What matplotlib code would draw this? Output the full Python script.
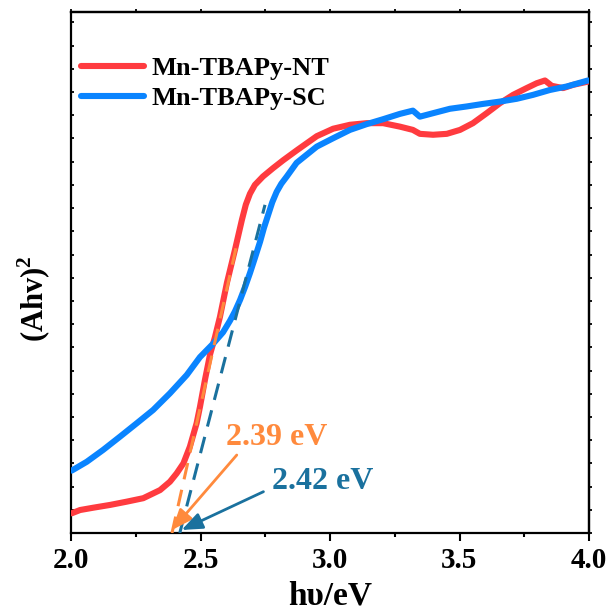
"""
Tauc plot of Mn-TBAPy-NT and Mn-TBAPy-SC with band-gap tangent lines.
"""
import numpy as np
from matplotlib import pyplot as plt
from matplotlib.ticker import MultipleLocator, NullFormatter

# photon energy (eV) and (Ahv)^2 in arbitrary units
nt_energy = [2.003, 2.035, 2.086, 2.151, 2.215, 2.279, 2.344, 2.382, 2.408,
             2.434, 2.459, 2.485, 2.498, 2.517, 2.537, 2.556, 2.575, 2.602,
             2.633, 2.660, 2.675, 2.691, 2.710, 2.741, 2.780, 2.819, 2.873,
             2.949, 3.012, 3.077, 3.142, 3.205, 3.270, 3.320, 3.347, 3.398,
             3.451, 3.502, 3.552, 3.605, 3.656, 3.707, 3.759, 3.798, 3.830,
             3.856, 3.900, 3.938, 3.996]
nt_signal = [0.85, 0.99, 1.09, 1.21, 1.35, 1.50, 1.85, 2.21, 2.57,
             3.00, 3.72, 4.73, 5.44, 6.59, 7.70, 8.45, 9.31, 10.78,
             12.20, 13.50, 14.15, 14.62, 15.00, 15.36, 15.72, 16.06, 16.50,
             17.10, 17.42, 17.59, 17.66, 17.66, 17.51, 17.37, 17.20, 17.16,
             17.20, 17.37, 17.66, 18.09, 18.52, 18.88, 19.17, 19.38, 19.50,
             19.27, 19.17, 19.31, 19.45]

sc_energy = [2.003, 2.061, 2.124, 2.189, 2.254, 2.317, 2.382, 2.447, 2.498,
             2.548, 2.587, 2.614, 2.633, 2.653, 2.672, 2.691, 2.710, 2.730,
             2.745, 2.761, 2.777, 2.794, 2.812, 2.833, 2.871, 2.949, 3.012,
             3.077, 3.142, 3.205, 3.270, 3.320, 3.347, 3.398, 3.463, 3.528,
             3.591, 3.656, 3.721, 3.784, 3.849, 3.914, 3.996]
sc_signal = [2.69, 3.07, 3.58, 4.15, 4.73, 5.30, 6.02, 6.81, 7.58,
             8.15, 8.65, 9.15, 9.55, 10.05, 10.60, 11.20, 11.85, 12.55,
             13.15, 13.70, 14.25, 14.70, 15.05, 15.36, 15.95, 16.65, 17.01,
             17.37, 17.62, 17.83, 18.06, 18.20, 17.94, 18.09, 18.28, 18.38,
             18.49, 18.59, 18.71, 18.88, 19.09, 19.24, 19.50]

# band gaps and top ends of the linear fits
nt_gap, nt_fit_end = 2.39, (2.637, 12.28)
sc_gap, sc_fit_end = 2.42, (2.749, 14.14)

red = "#ff3b3f"
blue = "#0a84ff"
orange = "#ff8a3d"
teal = "#1a719e"
serif = "Liberation Serif"

plt.rcParams["mathtext.fontset"] = "custom"
plt.rcParams["mathtext.rm"] = "Liberation Serif:bold"
plt.rcParams["mathtext.bf"] = "Liberation Serif:bold"

fig = plt.figure(figsize=(6.11, 6.16), dpi=100)
ax = fig.add_axes([71 / 611, 83 / 616, 518 / 611, 521 / 616])

ax.plot(nt_energy, nt_signal, color=red, lw=4.4, solid_capstyle="round",
        solid_joinstyle="round", label="Mn-TBAPy-NT", zorder=3)
ax.plot(sc_energy, sc_signal, color=blue, lw=4.4, solid_capstyle="round",
        solid_joinstyle="round", label="Mn-TBAPy-SC", zorder=3)

# tangent lines down to the energy axis
ax.plot([nt_gap, nt_fit_end[0]], [0, nt_fit_end[1]], color=orange, lw=2.2,
        dashes=(5.5, 3.5), zorder=4)
ax.plot([sc_gap, sc_fit_end[0]], [0, sc_fit_end[1]], color=teal, lw=2.2,
        dashes=(5.5, 3.5), zorder=4)

# arrows pointing at the intercepts
head = "-|>,head_length=1.25,head_width=0.5"
ax.annotate("", xy=(nt_gap, 0.13), xytext=(2.640, 3.36),
            arrowprops=dict(arrowstyle=head, color=orange, lw=2.0,
                            shrinkA=0, shrinkB=0), zorder=5)
ax.annotate("", xy=(2.427, 0.13), xytext=(2.743, 1.78),
            arrowprops=dict(arrowstyle=head, color=teal, lw=2.0,
                            shrinkA=0, shrinkB=0), zorder=5)
ax.text(2.795, 4.12, f"{nt_gap:.2f} eV", color=orange, fontsize=23,
        fontweight="bold", family=serif, ha="center", va="center")
ax.text(2.973, 2.24, f"{sc_gap:.2f} eV", color=teal, fontsize=23,
        fontweight="bold", family=serif, ha="center", va="center")

ax.set_xlim(2.0, 4.0)
ax.set_ylim(0, 22.45)
ax.xaxis.set_major_locator(MultipleLocator(0.5))
ax.xaxis.set_minor_locator(MultipleLocator(0.25))
ax.yaxis.set_major_locator(MultipleLocator(1))
ax.yaxis.set_major_formatter(NullFormatter())

for spine in ax.spines.values():
    spine.set_linewidth(1.6)

ax.tick_params(axis="x", which="major", direction="out", length=6, width=1.5,
               labelsize=21, pad=4)
ax.tick_params(axis="x", which="minor", direction="out", length=3, width=1.5)
ax.tick_params(axis="y", which="major", direction="in", length=2.5, width=1.3,
               left=True)
for lab in ax.get_xticklabels():
    lab.set_family(serif)
    lab.set_fontweight("bold")

# small outward ticks on the opposite sides
top = ax.secondary_xaxis("top")
top.xaxis.set_major_locator(MultipleLocator(0.25))
top.xaxis.set_major_formatter(NullFormatter())
top.tick_params(direction="out", length=2, width=1.3)
right = ax.secondary_yaxis("right")
right.yaxis.set_major_locator(MultipleLocator(1))
right.yaxis.set_major_formatter(NullFormatter())
right.tick_params(direction="out", length=2, width=1.3)
for sec in (top, right):
    for spine in sec.spines.values():
        spine.set_linewidth(1.6)

ax.set_xlabel("h\u03c5/eV", fontsize=24, fontweight="bold", family=serif,
              labelpad=5)
ax.set_ylabel(r"(Ahv)$^{2}$", fontsize=22, fontweight="bold", family=serif)
ax.yaxis.set_label_coords(-0.034, 0.45)

leg = ax.legend(loc="upper left", bbox_to_anchor=(-0.017, 0.95), frameon=False,
                handlelength=2.4, handletextpad=0.3, labelspacing=0.25,
                borderaxespad=0.3,
                prop=dict(family=serif, weight="bold", size=19))

fig.savefig("out.png", dpi=100)
